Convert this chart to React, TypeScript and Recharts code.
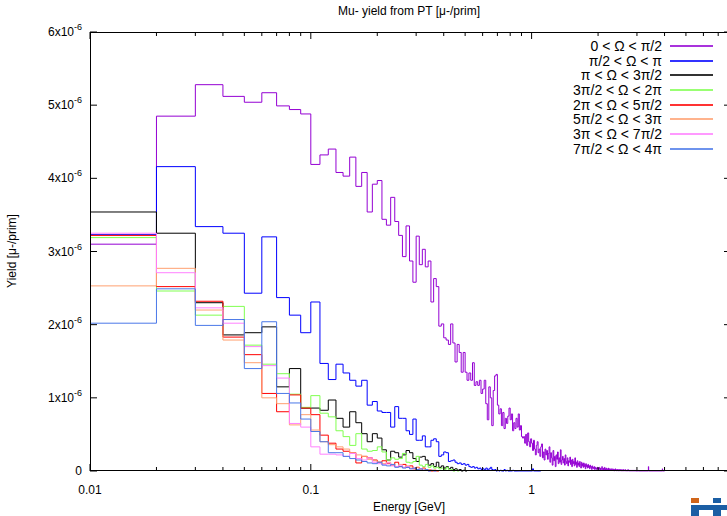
import { LineChart, Line, XAxis, YAxis } from 'recharts';

// bin width of the histograms (GeV); first bin starts at 0.01
const BIN = 0.01;
// all yields below are in units of 1e-8 mu-/prim
const UNIT = 1e-8;

const seriesNames = [
  '0 < Ω < π/2',
  'π/2 < Ω < π',
  'π < Ω < 3π/2',
  '3π/2 < Ω < 2π',
  '2π < Ω < 5π/2',
  '5π/2 < Ω < 3π',
  '3π < Ω < 7π/2',
  '7π/2 < Ω < 4π',
];
const seriesColors = ['#9400d3', '#0000ff', '#000000', '#80ff50', '#ff0000', '#ffa070', '#ff80ff', '#4a78e8'];

const yieldQ1 = [
  310, 485, 528, 512, 504, 517, 499, 494, 488,
  419, 432, 440, 408, 403, 429, 389, 408, 354, 392,
  397, 344, 336, 374, 341, 322, 293, 335, 287, 258,
  321, 282, 303, 279, 287, 231, 263, 252, 198, 201,
  182, 179, 173, 201, 175, 149, 173, 162, 135, 162,
  135, 124, 134, 124, 148, 117, 122, 117, 124, 106,
  112, 124, 92, 70, 115, 100, 62, 110, 130, 132,
  90, 78, 85, 62, 80, 58, 72, 65, 75, 86,
  70, 78, 55, 66, 58, 72, 60, 78, 56, 62,
  47, 45, 47, 38, 50, 35, 52, 40, 33, 44,
  38, 28, 42, 30, 22, 35, 40, 25, 30, 20,
  33, 37, 18, 26, 15, 30, 22, 28, 16, 24,
  33, 12, 25, 18, 8, 28, 14, 20, 6, 22,
  16, 26, 10, 18, 12, 29, 9, 15, 20, 11,
  17, 8, 22, 13, 10, 18, 7, 14, 12, 19,
  9, 15, 6, 16, 10, 13, 7, 18, 9, 12,
  5, 14, 8, 11, 6, 13, 9, 4, 12, 7,
  10, 5, 11, 6, 9, 3, 10, 6, 8, 4,
  9, 5, 7, 3, 8, 5, 6, 2, 7, 4,
  5, 3, 6, 2, 5, 3, 4, 2, 5, 3,
  4, 2, 5, 3, 1, 4, 2, 3, 6, 2,
  3, 1, 4, 2, 5, 1, 3, 2, 4, 1,
  2, 3, 1, 4, 2, 1, 3, 2, 1, 3,
  2, 1, 2, 3, 1, 2, 0, 2, 1, 3,
  1, 2, 1, 0, 2, 1, 2, 1, 0, 2,
  1, 0, 2, 1, 1, 0, 2, 1, 0, 1,
  2, 0, 1, 1, 0, 2, 0, 1, 0, 1,
  0, 1, 0, 2, 0, 1, 0, 0, 1, 0,
  1, 0, 0, 1, 0, 0, 1, 0, 0, 1,
  0, 0, 1, 0, 0, 0, 1, 0, 0, 0,
  0, 0, 0, 1, 0, 0, 0, 0, 0, 0,
  0, 0, 0, 0, 0, 0, 0, 0, 0, 0,
  0, 0, 0, 0, 0, 0, 0, 0, 0, 0,
  0, 0, 0, 0, 0, 0, 0, 0, 6, 0,
  0, 0, 0, 0, 0, 0, 0, 0, 0, 0,
  0, 0, 0, 0, 0, 0, 0, 0, 0, 0,
  0, 0, 0, 0, 0, 0, 0, 0, 0, 0,
  0, 0, 0, 0, 0, 0, 0, 0, 0, 0,
  0, 0, 0, 0, 0, 0, 0, 0, 0, 0,
  0, 3, 0, 0, 0, 0, 0, 0, 0, 0,
];
const yieldQ2 = [
  323, 416, 334, 325, 243, 320, 237, 213, 189,
  231, 147, 125, 146, 134, 124, 116, 124, 90, 95,
  82, 80, 80, 60, 88, 72, 72, 55, 50, 71,
  42, 42, 48, 33, 33, 42, 44, 40, 20, 22,
  26, 25, 13, 14, 15, 12, 10, 11, 9, 10,
  8, 9, 6, 5, 6, 4, 5, 3, 4, 2,
  3, 2, 4, 1, 3, 5, 2, 1, 2, 0,
  1, 0, 1, 0, 0, 2, 0, 1, 0, 0,
  0, 0, 1, 0, 0, 0, 0, 0, 0, 0,
  0, 0, 0, 0, 0, 0, 0, 0, 0, 0,
  0, 3, 0, 0, 0, 0, 0, 0, 0, 0,
];
const yieldQ3 = [
  354, 325, 230, 186, 189, 197, 115, 140, 86,
  86, 83, 97, 72, 60, 81, 66, 51, 40, 51,
  45, 29, 15, 27, 25, 19, 22, 28, 25, 17,
  13, 19, 20, 15, 8, 10, 6, 12, 5, 7,
  4, 6, 3, 5, 2, 3, 1, 2, 0, 1, 0,
];
const yieldQ4 = [
  319, 246, 213, 225, 172, 146, 133, 105, 87,
  103, 79, 74, 55, 47, 35, 51, 30, 27, 28,
  33, 26, 15, 18, 16, 17, 24, 12, 11, 13,
  20, 8, 6, 9, 5, 7, 4, 5, 3, 4,
  2, 5, 1, 2, 0, 1, 0,
];
const yieldQ5 = [
  322, 252, 232, 183, 159, 106, 81, 104, 86,
  77, 49, 38, 30, 27, 25, 11, 20, 18, 15,
  12, 14, 10, 8, 12, 6, 9, 5, 7, 3,
  5, 2, 4, 1, 2, 0, 1, 0,
];
const yieldQ6 = [
  253, 277, 220, 179, 148, 100, 92, 63, 77,
  56, 40, 36, 33, 30, 25, 22, 20, 16, 14,
  12, 10, 12, 8, 6, 9, 5, 7, 4, 3,
  5, 2, 3, 1, 2, 0, 1, 0,
];
const yieldQ7 = [
  325, 271, 223, 202, 170, 144, 127, 65, 60,
  33, 23, 23, 22, 20, 24, 17, 15, 18, 12,
  10, 9, 11, 7, 6, 8, 5, 6, 3, 4,
  2, 3, 1, 2, 0, 1, 0,
];
const yieldQ8 = [
  202, 249, 199, 207, 140, 204, 106, 93, 71,
  54, 40, 25, 25, 20, 17, 15, 13, 11, 10,
  12, 8, 7, 9, 5, 6, 4, 5, 3, 4,
  2, 3, 1, 2, 0, 1, 0,
];

const xTicks = [
  0.01, 0.02, 0.03, 0.04, 0.05, 0.06, 0.07, 0.08, 0.09,
  0.1, 0.2, 0.3, 0.4, 0.5, 0.6, 0.7, 0.8, 0.9,
  1, 2, 3, 4, 5, 6, 7, 8,
];
const xMajor = [0.01, 0.1, 1];
const yTicks = [0, 1e-6, 2e-6, 3e-6, 4e-6, 5e-6, 6e-6];

const allSeries = [yieldQ1, yieldQ2, yieldQ3, yieldQ4, yieldQ5, yieldQ6, yieldQ7, yieldQ8];

// bin lower edge in GeV, rounded to avoid float noise
const edge = (i: number) => Math.round((i + 1) * BIN * 100) / 100;

// histogram -> step points at bin lower edges, plus the closing upper edge
function toSteps(vals: number[]) {
  const pts = vals.map((v, i) => ({ e: edge(i), y: v * UNIT }));
  const n = vals.length;
  pts.push({ e: edge(n), y: vals[n - 1] * UNIT });
  return pts;
}

const FONT = '"Liberation Sans", Arial, Helvetica, sans-serif';
const W = 760;
const H = 516;
const LEFT = 90;
const RIGHT = 731;
const TOP = 32;
const BOTTOM = 471;

const XTick = (props: any) => {
  const { x, payload } = props;
  const v = payload.value;
  const major = xMajor.includes(v);
  const len = major ? 7 : 4;
  return (
    <g>
      <line x1={x} x2={x} y1={BOTTOM} y2={BOTTOM - len} stroke="#000" />
      <line x1={x} x2={x} y1={TOP} y2={TOP + len} stroke="#000" />
      {major && (
        <text x={x} y={BOTTOM + 23} textAnchor="middle" fontSize={12} fontFamily={FONT} fill="#000">
          {String(v)}
        </text>
      )}
    </g>
  );
};

const YTick = (props: any) => {
  const { y, payload } = props;
  const v = payload.value;
  const n = Math.round(v / 1e-6);
  return (
    <g>
      <line x1={LEFT} x2={LEFT + 7} y1={y} y2={y} stroke="#000" />
      <line x1={RIGHT} x2={RIGHT - 7} y1={y} y2={y} stroke="#000" />
      <text x={82} y={y + 4} textAnchor="end" fontSize={12} fontFamily={FONT} fill="#000">
        {n === 0 ? (
          '0'
        ) : (
          <>
            <tspan>{`${n}x10`}</tspan>
            <tspan dy={-6} fontSize={9}>-6</tspan>
          </>
        )}
      </text>
    </g>
  );
};

export default function App() {
  return (
    <div
      style={{
        position: 'absolute',
        left: 0,
        top: 0,
        width: 727,
        height: 516,
        overflow: 'hidden',
        background: '#fff',
        fontFamily: FONT,
      }}
    >
      <LineChart width={W} height={H} margin={{ top: TOP, right: W - RIGHT, bottom: 0, left: 0 }}>
        <XAxis
          dataKey="e"
          type="number"
          scale="log"
          domain={[0.01, 8]}
          allowDataOverflow
          ticks={xTicks}
          interval={0}
          tick={<XTick />}
          tickLine={false}
          axisLine={false}
          height={H - BOTTOM}
        />
        <YAxis
          type="number"
          domain={[0, 6e-6]}
          ticks={yTicks}
          interval={0}
          tick={<YTick />}
          tickLine={false}
          axisLine={false}
          width={LEFT}
        />
        {allSeries.map((s, i) => (
          <Line
            key={seriesNames[i]}
            data={toSteps(s)}
            dataKey="y"
            type="stepAfter"
            stroke={seriesColors[i]}
            strokeWidth={1}
            dot={false}
            isAnimationActive={false}
          />
        ))}
      </LineChart>

      {/* plot frame */}
      <div
        style={{
          position: 'absolute',
          left: LEFT,
          top: TOP,
          width: RIGHT - LEFT,
          height: BOTTOM - TOP,
          border: '1px solid #000',
          boxSizing: 'border-box',
          pointerEvents: 'none',
        }}
      />

      {/* title */}
      <div style={{ position: 'absolute', left: 0, top: 4, width: 818, textAlign: 'center', fontSize: 12 }}>
        Mu- yield from PT [μ-/prim]
      </div>

      {/* axis labels */}
      <div style={{ position: 'absolute', left: 0, top: 500, width: 818, textAlign: 'center', fontSize: 12 }}>
        Energy [GeV]
      </div>
      <div
        style={{
          position: 'absolute',
          left: 12,
          top: 251,
          fontSize: 12,
          whiteSpace: 'nowrap',
          transform: 'translate(-50%, -50%) rotate(-90deg)',
        }}
      >
        Yield [μ-/prim]
      </div>

      {/* legend */}
      {seriesNames.map((name, i) => (
        <div
          key={name}
          style={{
            position: 'absolute',
            left: 460,
            top: Math.round(39 + i * 14.65),
            width: 260,
            height: 14,
            fontSize: 14,
          }}
        >
          <span style={{ position: 'absolute', right: 58, top: 0, lineHeight: '14px', whiteSpace: 'nowrap' }}>
            {name}
          </span>
          <div
            style={{
              position: 'absolute',
              left: 210,
              width: 43,
              top: 6,
              height: 2,
              opacity: 0.8,
              background: seriesColors[i],
            }}
          />
        </div>
      ))}

      {/* logo fragment, bottom right */}
      <div style={{ position: 'absolute', left: 691, top: 498, width: 8, height: 5, background: '#d0651a' }} />
      <div style={{ position: 'absolute', left: 713, top: 498, width: 8, height: 5, background: '#1b5ea4' }} />
      <div style={{ position: 'absolute', left: 691, top: 505, width: 36, height: 5, background: '#1b5ea4' }} />
      <div style={{ position: 'absolute', left: 691, top: 505, width: 8, height: 11, background: '#1b5ea4' }} />
      <div style={{ position: 'absolute', left: 713, top: 505, width: 8, height: 11, background: '#1b5ea4' }} />
    </div>
  );
}
